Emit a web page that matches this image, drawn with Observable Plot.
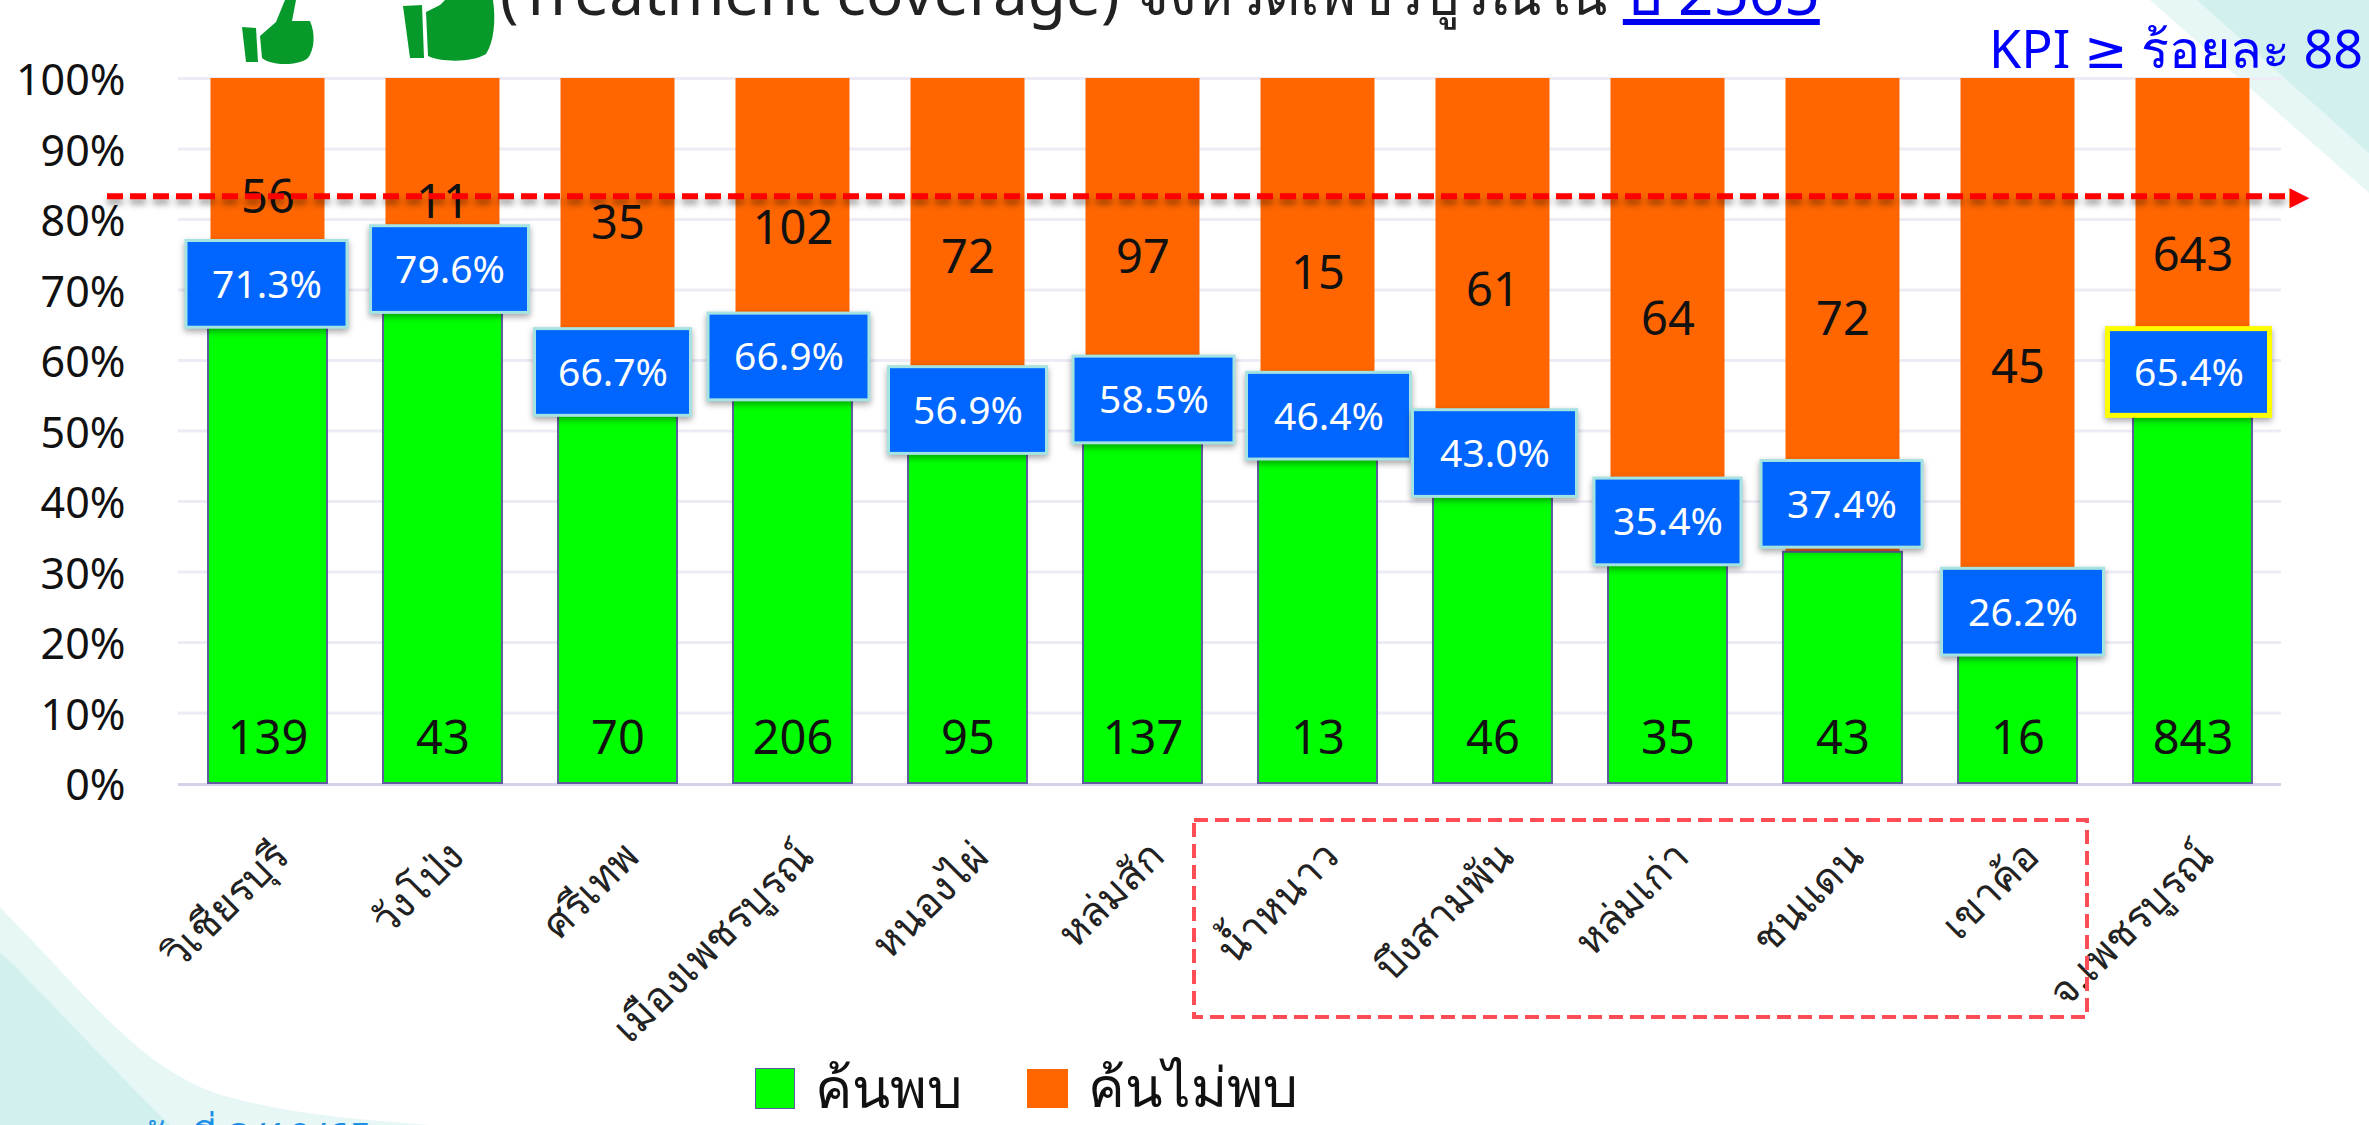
<!DOCTYPE html>
<html><head><meta charset="utf-8">
<script src="https://cdn.jsdelivr.net/npm/d3@7"></script>
<script src="https://cdn.jsdelivr.net/npm/@observablehq/plot@0.6"></script>
<style>
html,body{margin:0;padding:0;background:#fff;overflow:hidden}
#page{position:relative;width:2369px;height:1125px;overflow:hidden;font-family:"Noto Sans","DejaVu Sans",sans-serif}
#page svg.deco{position:absolute;left:0;top:0}
#chart{position:absolute;left:0;top:0}
#chart svg{background:transparent!important}
.t{position:absolute;white-space:nowrap;line-height:1}
.sw{position:absolute}
</style></head><body><div id="page">
<svg class="deco" width="2369" height="1125">
<path d="M2150 0L2369 193V0Z" fill="#e6f7f5"/>
<path d="M2197 0L2369 153V0Z" fill="#d2f1ee"/>
<path d="M0 907C100 1010 150 1080 240 1100C300 1115 360 1120 430 1125H0Z" fill="#e6f7f5"/>
<path d="M0 952C50 1000 100 1057 170 1125H0Z" fill="#d2f1ee"/>
<g fill="#079a2b">
<path d="M242 27L256 28L258 62L246 62Z"/>
<path d="M260 36L276 22L285 0L296 0L292 21L310 21C316 35 314 50 308 58C298 66 272 66 262 58Z"/>
<path d="M403 6L422 5L424 58L410 58Z"/>
<path d="M426 12L440 5L445 0L493 0C496 20 494 42 486 54C472 63 440 62 428 56Z"/>
</g>
</svg>
<div id="chart"></div>
<svg class="deco" width="2369" height="1125" style="pointer-events:none">
<rect x="1194" y="820" width="893" height="197" fill="none" stroke="#ff4d55" stroke-width="4" stroke-dasharray="14 7"/>
</svg>
<div class="t" style="left:500px;top:-40px;font-size:62px;color:#222">(Treatment coverage) <span style="font-size:56px">จังหวัดเพชรบูรณ์ใน</span> <span style="color:#0000ee;text-decoration:underline">ปี 2565</span></div>
<div class="t" style="right:6px;top:22px;font-size:52px;color:#0000ff">KPI ≥ ร้อยละ 88</div>
<div class="sw" style="left:755px;top:1068px;width:40px;height:41px;background:#00ff00;border:1px solid #5a5a9e;box-sizing:border-box"></div>
<div class="t" style="left:815px;top:1058px;font-size:56px;color:#111">ค้นพบ</div>
<div class="sw" style="left:1027px;top:1069px;width:41px;height:39px;background:#ff6600"></div>
<div class="t" style="left:1088px;top:1058px;font-size:55px;color:#111">ค้นไม่พบ</div>
<div class="t" style="left:95px;top:1117px;font-size:40px;color:#1e8fe6">ณ วันที่ 3/10/65</div>
</div>
<script>
const districts = ["วิเชียรบุรี","วังโป่ง","ศรีเทพ","เมืองเพชรบูรณ์","หนองไผ่","หล่มสัก","น้ำหนาว","บึงสามพัน","หล่มเก่า","ชนแดน","เขาค้อ","จ.เพชรบูรณ์"];
const found = [139,43,70,206,95,137,13,46,35,43,16,843];
const notFound = [56,11,35,102,72,97,15,61,64,72,45,643];
const coverageLabels = ["71.3%","79.6%","66.7%","66.9%","56.9%","58.5%","46.4%","43.0%","35.4%","37.4%","26.2%","65.4%"];
// Share of the bar that is green (%)
const foundShare = [70.8,72.9,58.3,60.5,52.9,54.4,52.1,46.8,37.1,32.8,24.3,58.3];
// Where the labels sit on the y axis (%)
const coverageLabelAt = [70.8,72.9,58.3,60.5,52.9,54.4,52.1,46.8,37.1,39.6,24.3,58.3];
const notFoundLabelAt = [83.1,82.3,79.4,78.6,74.6,74.6,72.3,69.9,65.8,65.7,59,74.9];
const foundLabelAt = 6.3;
const kpiLine = 83.3;
const yTicks = [0,10,20,30,40,50,60,70,80,90,100];

const boxNudge = [-1,7,-5,-4,0,11,11,2,0,-1,5,-4];
const boxWide = [162,159,157,162,159,162,165,165,148,162,163,163];
const font = '"Noto Sans","DejaVu Sans",sans-serif';
const rows = districts.map((d,i)=>({d,i,found:found[i],notFound:notFound[i],share:foundShare[i],label:coverageLabels[i],at:coverageLabelAt[i],nAt:notFoundLabelAt[i]}));
const shadow = "drop-shadow(0 3px 3px rgba(0,0,0,.35))";

const boxes = rows.flatMap((r,i)=>{
  const inset = -(boxWide[i]-120)/2;
  const last = i===rows.length-1;
  return [
    Plot.barY([r],{x:"d",y1:r.at-6.15,y2:r.at+6.15,dx:boxNudge[i],insetLeft:inset,insetRight:inset,
      fill:"#0066ff",stroke:last?"#ffff00":"#a5e3e3",strokeWidth:last?5:3,imageFilter:shadow}),
    Plot.text([r],{x:"d",y:r.at,dx:boxNudge[i],dy:1,text:"label",fill:"#fff",fontSize:39,fontFamily:font})
  ];
});

const chart = Plot.plot({
  width:2369,height:1125,marginTop:78,marginBottom:342,marginLeft:178,marginRight:88,
  style:{background:"transparent",fontFamily:font},
  x:{domain:districts,paddingInner:0.32,paddingOuter:0.16,label:null},
  y:{domain:[0,100],label:null},
  marks:[
    Plot.ruleY(yTicks.filter(t=>t>0),{stroke:"#ecebf6",strokeWidth:3}),
    Plot.ruleY([0],{stroke:"#d3d2ea",strokeWidth:3,dy:1}),
    Plot.barY(rows,{x:"d",y1:"share",y2:()=>100,fill:"#ff6600",insetLeft:2.5,insetRight:2.5}),
    Plot.barY(rows,{x:"d",y1:()=>0,y2:"share",fill:"#00ff00",stroke:"#5f5fa0",strokeWidth:2}),
    Plot.text(rows,{x:"d",y:"nAt",text:"notFound",fill:"#111",fontSize:47,fontFamily:font}),
    Plot.text(rows,{x:"d",y:()=>foundLabelAt,text:"found",fill:"#111",fontSize:47,fontFamily:font}),
    Plot.ruleY([kpiLine],{stroke:"#ff0000",strokeWidth:6,strokeDasharray:"16 7",insetLeft:-71,insetRight:-16,imageFilter:"drop-shadow(0 5px 3px rgba(0,0,0,.4))"}),
    Plot.text([kpiLine],{y:d=>d,frameAnchor:"right",text:()=>"▶",dx:28,fill:"#ff0000",fontSize:26,fontFamily:"DejaVu Sans"}),
    ...boxes,
    Plot.axisY({ticks:yTicks,tickFormat:d=>d+"%",tickSize:0,tickPadding:53,fontSize:43,fill:"#111",label:null,dy:3}),
    Plot.axisX({tickRotate:-45,tickSize:0,tickPadding:66,fontSize:41,fill:"#222",label:null,dx:14})
  ]
});
document.getElementById("chart").appendChild(chart);
</script>
</body></html>
